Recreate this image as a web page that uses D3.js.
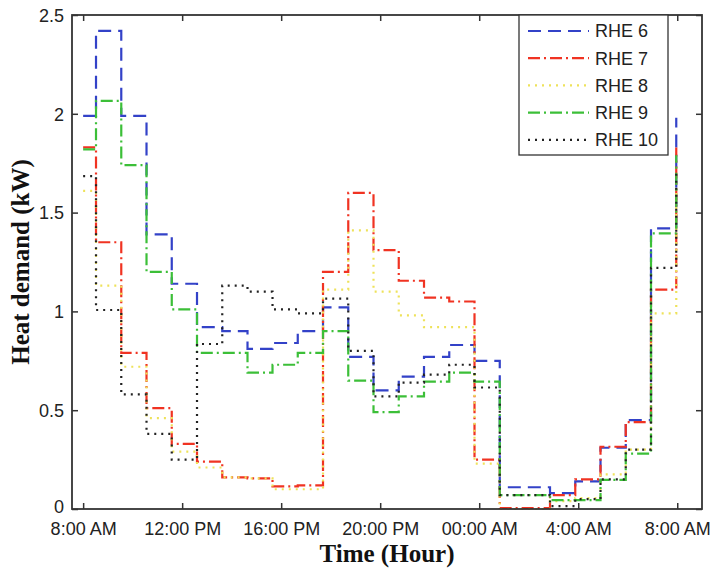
<!DOCTYPE html>
<html>
<head>
<meta charset="utf-8">
<script src="https://cdn.jsdelivr.net/npm/d3@7"></script>
<style>
  html, body { margin: 0; padding: 0; background: #fff; }
  svg { display: block; }
</style>
</head>
<body>
<svg id="chart" width="710" height="571"></svg>
<script>
// Step boundaries in hours after 8:00 AM (each value holds until the next time)
const times = [0, 0.52, 1.54, 2.56, 3.58, 4.60, 5.62, 6.64, 7.65, 8.67, 9.69, 10.71, 11.73,
               12.75, 13.77, 14.79, 15.81, 16.83, 17.84, 18.86, 19.88, 20.90, 21.92, 22.94, 23.96];

// Heat demand (kW) per household
const rhe6  = [1.99, 2.42, 1.99, 1.39, 1.14, 0.92, 0.90, 0.81, 0.84, 0.90, 1.02, 0.77, 0.60,
               0.67, 0.77, 0.83, 0.75, 0.11, 0.11, 0.08, 0.14, 0.31, 0.45, 1.42, 1.98];
const rhe7  = [1.83, 1.35, 0.79, 0.51, 0.33, 0.24, 0.16, 0.155, 0.115, 0.12, 1.20, 1.60, 1.31,
               1.155, 1.07, 1.05, 0.25, 0.005, 0.005, 0.07, 0.15, 0.315, 0.44, 1.11, 1.83];
const rhe8  = [1.61, 1.13, 0.72, 0.46, 0.29, 0.21, 0.16, 0.155, 0.10, 0.10, 1.11, 1.41, 1.10,
               0.98, 0.92, 0.92, 0.23, 0.0, 0.0, 0.04, 0.055, 0.175, 0.30, 0.99, 1.60];
const rhe9  = [1.82, 2.065, 1.74, 1.20, 1.01, 0.79, 0.79, 0.69, 0.73, 0.79, 0.90, 0.65, 0.49,
               0.57, 0.645, 0.69, 0.645, 0.07, 0.07, 0.045, 0.045, 0.147, 0.28, 1.395, 1.79];
const rhe10 = [1.685, 1.007, 0.58, 0.38, 0.25, 0.835, 1.13, 1.10, 1.01, 0.99, 1.065, 0.80, 0.57,
               0.64, 0.68, 0.73, 0.615, 0.07, 0.07, 0.015, 0.05, 0.15, 0.30, 1.22, 1.70];

const seriesNames = ["RHE 6", "RHE 7", "RHE 8", "RHE 9", "RHE 10"];
const seriesValues = [rhe6, rhe7, rhe8, rhe9, rhe10];
const seriesColors = ["#3342c8", "#f03322", "#eee25a", "#3cbf38", "#222222"];
const seriesDash   = ["13,7", "12,4,2,4", "2,5", "12,4,2,4", "2,5"];

const xTickHours  = [0, 4, 8, 12, 16, 20, 24];
const xTickLabels = ["8:00 AM", "12:00 PM", "16:00 PM", "20:00 PM", "00:00 AM", "4:00 AM", "8:00 AM"];
const yTicks = [0, 0.5, 1, 1.5, 2, 2.5];

const plot = { left: 72, right: 702, top: 15, bottom: 509 };

const svg = d3.select("#chart");

const x = d3.scaleLinear().domain([-0.45, 25.0]).range([plot.left, plot.right]);
const y = d3.scaleLinear().domain([0, 2.5]).range([plot.bottom, plot.top]);

const axisColor = "#333";
const tickFont = "'Liberation Sans', Arial, sans-serif";

// Step lines
const line = d3.line()
  .x((d, i) => x(times[i]))
  .y(d => y(d))
  .curve(d3.curveStepAfter);

const lines = svg.append("g");
seriesValues.forEach((vals, k) => {
  lines.append("path")
    .attr("d", line(vals))
    .attr("fill", "none")
    .attr("stroke", seriesColors[k])
    .attr("stroke-width", 2.2)
    .attr("stroke-dasharray", seriesDash[k]);
});

// Axes: inward ticks on all four sides
const fmtX = (d) => xTickLabels[xTickHours.indexOf(d)];
const fmtY = (d) => d3.format("")(d);

const bottomAxis = svg.append("g")
  .attr("transform", `translate(0,${plot.bottom})`)
  .call(d3.axisBottom(x).tickValues(xTickHours).tickFormat(fmtX).tickSizeInner(-6).tickSizeOuter(0).tickPadding(13));
const topAxis = svg.append("g")
  .attr("transform", `translate(0,${plot.top})`)
  .call(d3.axisTop(x).tickValues(xTickHours).tickFormat("").tickSizeInner(-6).tickSizeOuter(0));
const leftAxis = svg.append("g")
  .attr("transform", `translate(${plot.left},0)`)
  .call(d3.axisLeft(y).tickValues(yTicks).tickFormat(fmtY).tickSizeInner(-6).tickSizeOuter(0).tickPadding(8));
const rightAxis = svg.append("g")
  .attr("transform", `translate(${plot.right},0)`)
  .call(d3.axisRight(y).tickValues(yTicks).tickFormat("").tickSizeInner(-6).tickSizeOuter(0));

[bottomAxis, topAxis, leftAxis, rightAxis].forEach(g => {
  g.select(".domain").remove();
  g.selectAll(".tick line").attr("stroke", axisColor).attr("stroke-width", 1.5);
  g.selectAll("text")
    .attr("fill", "#222")
    .style("font-family", tickFont)
    .style("font-size", "18px");
});
leftAxis.selectAll("text").attr("dy", "0.35em");
// the zero label sits right above the first time label; lift it a touch
leftAxis.selectAll(".tick").filter(d => d === 0).select("text").attr("dy", "0.2em");

// Plot frame
svg.append("rect")
  .attr("x", plot.left).attr("y", plot.top)
  .attr("width", plot.right - plot.left).attr("height", plot.bottom - plot.top)
  .attr("fill", "none").attr("stroke", axisColor).attr("stroke-width", 1.8);

// Axis titles
const titleFont = "'Liberation Serif', 'Times New Roman', serif";
svg.append("text")
  .attr("x", (plot.left + plot.right) / 2)
  .attr("y", 562)
  .attr("text-anchor", "middle")
  .style("font-family", titleFont).style("font-weight", "bold").style("font-size", "25px")
  .attr("fill", "#111")
  .text("Time (Hour)");
svg.append("text")
  .attr("transform", `translate(29,${(plot.top + plot.bottom) / 2}) rotate(-90)`)
  .attr("text-anchor", "middle")
  .style("font-family", titleFont).style("font-weight", "bold").style("font-size", "25px")
  .attr("fill", "#111")
  .text("Heat demand (kW)");

// Legend
const legend = svg.append("g");
legend.append("rect")
  .attr("x", 519).attr("y", plot.top)
  .attr("width", 149).attr("height", 140)
  .attr("fill", "#fff").attr("stroke", axisColor).attr("stroke-width", 1.3);
seriesNames.forEach((name, k) => {
  const cy = 31 + k * 27.2;
  legend.append("line")
    .attr("x1", 528).attr("x2", 589)
    .attr("y1", cy).attr("y2", cy)
    .attr("stroke", seriesColors[k])
    .attr("stroke-width", 2.2)
    .attr("stroke-dasharray", seriesDash[k]);
  legend.append("text")
    .attr("x", 595).attr("y", cy).attr("dy", "0.35em")
    .style("font-family", tickFont).style("font-size", "18px")
    .attr("fill", "#222")
    .text(name);
});
</script>
</body>
</html>
